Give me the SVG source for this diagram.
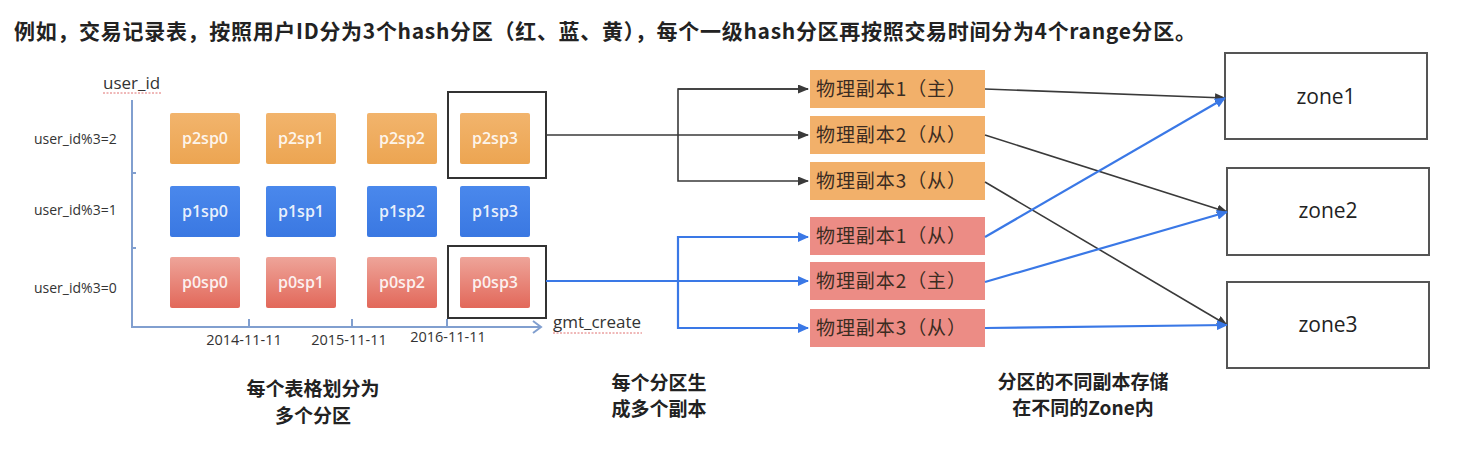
<svg xmlns="http://www.w3.org/2000/svg" width="1467" height="452" viewBox="0 0 1467 452">
<style>
.t{font-family:"Noto Sans CJK SC","Noto Sans",sans-serif;fill:#222}
.b{font-weight:bold}
.lat{font-family:"Open Sans","Noto Sans",sans-serif;fill:#333}
.cell{font-family:"Open Sans","Noto Sans",sans-serif;font-size:16px;font-weight:600;fill:#fff;fill-opacity:0.9;text-anchor:middle}
.rep{font-family:"Noto Sans CJK SC","Noto Sans",sans-serif;font-size:19px;fill:#3b2c22}
.zt{font-family:"Open Sans","Noto Sans",sans-serif;font-size:21px;fill:#222;text-anchor:middle}
.zone{fill:#fff;stroke:#555;stroke-width:2}
.hl{fill:none;stroke:#333;stroke-width:2}
.k{fill:none;stroke:#3a3a3a;stroke-width:1.6}
.bl{fill:none;stroke:#3a78e6;stroke-width:2.2}
.ax{fill:none;stroke:#819fcf;stroke-width:2}
.sq{fill:none;stroke:#e07070;stroke-width:1;stroke-dasharray:2 1.5}
.cap{font-family:"Noto Sans CJK SC","Noto Sans",sans-serif;font-weight:bold;font-size:19px;fill:#222;text-anchor:middle}
</style>
<defs>
<linearGradient id="gO" x1="0" y1="0" x2="0" y2="1"><stop offset="0" stop-color="#f2b46c"/><stop offset="1" stop-color="#eca552"/></linearGradient>
<linearGradient id="gB" x1="0" y1="0" x2="0" y2="1"><stop offset="0" stop-color="#4a88ec"/><stop offset="1" stop-color="#3a78e2"/></linearGradient>
<linearGradient id="gR" x1="0" y1="0" x2="0" y2="1"><stop offset="0" stop-color="#eea499"/><stop offset="1" stop-color="#e2685a"/></linearGradient>
<marker id="ak" markerWidth="11" markerHeight="9" refX="10" refY="4.5" orient="auto" markerUnits="userSpaceOnUse"><path d="M0,0 L11,4.5 L0,9 Z" fill="#3a3a3a"/></marker>
<marker id="ab" markerWidth="11" markerHeight="10" refX="10" refY="5" orient="auto" markerUnits="userSpaceOnUse"><path d="M0,0 L11,5 L0,10 Z" fill="#3a78e6"/></marker>
</defs>
<rect width="1467" height="452" fill="#fff"/>

<text class="t b" x="14" y="39" font-size="21" textLength="1182" lengthAdjust="spacing">例如，交易记录表，按照用户ID分为3个hash分区（红、蓝、黄），每个一级hash分区再按照交易时间分为4个range分区。</text>

<g id="axes">
<path class="ax" d="M132,100 V327 H540"/>
<path class="ax" d="M533,321 L541,327 L533,333"/>
<path class="ax" d="M132,173 h4 M132,248 h4 M249,327 v-8 M352,327 v-8 M447,327 v-8"/>
<text class="lat" x="103" y="89" font-size="17">user_id</text>
<path class="sq" d="M103,93 H162"/>
<text class="lat" x="553" y="328" font-size="17">gmt_create</text>
<path class="sq" d="M553,333 H642"/>
<text class="lat" x="34" y="144" font-size="14">user_id%3=2</text>
<text class="lat" x="34" y="215" font-size="14">user_id%3=1</text>
<text class="lat" x="34" y="293" font-size="14">user_id%3=0</text>
<text class="lat" x="244" y="345" font-size="14.5" text-anchor="middle">2014-11-11</text>
<text class="lat" x="349" y="345" font-size="14.5" text-anchor="middle">2015-11-11</text>
<text class="lat" x="448" y="342" font-size="14.5" text-anchor="middle">2016-11-11</text>
</g>

<g id="p2">
<rect x="170" y="113" width="70" height="51" rx="2" fill="url(#gO)"/><text class="cell" x="205" y="144">p2sp0</text>
<rect x="266" y="113" width="70" height="51" rx="2" fill="url(#gO)"/><text class="cell" x="301" y="144">p2sp1</text>
<rect x="367" y="113" width="70" height="51" rx="2" fill="url(#gO)"/><text class="cell" x="402" y="144">p2sp2</text>
<rect x="460" y="113" width="70" height="51" rx="2" fill="url(#gO)"/><text class="cell" x="495" y="144">p2sp3</text>
</g>
<g id="p1">
<rect x="170" y="186" width="70" height="51" rx="2" fill="url(#gB)"/><text class="cell" x="205" y="217">p1sp0</text>
<rect x="266" y="186" width="70" height="51" rx="2" fill="url(#gB)"/><text class="cell" x="301" y="217">p1sp1</text>
<rect x="367" y="186" width="70" height="51" rx="2" fill="url(#gB)"/><text class="cell" x="402" y="217">p1sp2</text>
<rect x="460" y="186" width="70" height="51" rx="2" fill="url(#gB)"/><text class="cell" x="495" y="217">p1sp3</text>
</g>
<g id="p0">
<rect x="170" y="257" width="70" height="51" rx="2" fill="url(#gR)"/><text class="cell" x="205" y="288">p0sp0</text>
<rect x="266" y="257" width="70" height="51" rx="2" fill="url(#gR)"/><text class="cell" x="301" y="288">p0sp1</text>
<rect x="367" y="257" width="70" height="51" rx="2" fill="url(#gR)"/><text class="cell" x="402" y="288">p0sp2</text>
<rect x="460" y="257" width="70" height="51" rx="2" fill="url(#gR)"/><text class="cell" x="495" y="288">p0sp3</text>
</g>
<g id="highlights">
<rect class="hl" x="448" y="92" width="98" height="86"/>
<rect class="hl" x="448" y="246" width="98" height="72"/>
</g>

<g id="replicas-p2">
<rect x="810" y="70" width="175" height="38" fill="#f2b06a"/><text class="rep" x="816" y="96" textLength="150">物理副本1（主）</text>
<rect x="810" y="116" width="175" height="38" fill="#f2b06a"/><text class="rep" x="816" y="142" textLength="150">物理副本2（从）</text>
<rect x="810" y="162" width="175" height="38" fill="#f2b06a"/><text class="rep" x="816" y="188" textLength="150">物理副本3（从）</text>
</g>
<g id="replicas-p0">
<rect x="810" y="217" width="175" height="38" fill="#ec8c85"/><text class="rep" x="816" y="243" textLength="150">物理副本1（从）</text>
<rect x="810" y="262" width="175" height="38" fill="#ec8c85"/><text class="rep" x="816" y="288" textLength="150">物理副本2（主）</text>
<rect x="810" y="309" width="175" height="38" fill="#ec8c85"/><text class="rep" x="816" y="335" textLength="150">物理副本3（从）</text>
</g>

<g id="zone1"><rect class="zone" x="1225" y="53" width="202" height="86"/><text class="zt" x="1326" y="104">zone1</text></g>
<g id="zone2"><rect class="zone" x="1227" y="168" width="202" height="87"/><text class="zt" x="1328" y="218">zone2</text></g>
<g id="zone3"><rect class="zone" x="1227" y="282" width="202" height="86"/><text class="zt" x="1328" y="332">zone3</text></g>

<g id="connectors">
<path class="k" d="M546,135 H808" marker-end="url(#ak)"/>
<path class="k" d="M808,89 H678 V181 H808" marker-end="url(#ak)"/>
<path class="k" d="M678,89 H808" marker-end="url(#ak)"/>
<path class="bl" d="M546,281 H808" marker-end="url(#ab)"/>
<path class="bl" d="M808,237 H678 V328 H808" marker-end="url(#ab)"/>
<path class="bl" d="M678,237 H808" marker-end="url(#ab)"/>
<path class="k" d="M985,89 L1225,98" marker-end="url(#ak)"/>
<path class="k" d="M985,135 L1227,212" marker-end="url(#ak)"/>
<path class="k" d="M985,182 L1227,325" marker-end="url(#ak)"/>
<path class="bl" d="M985,237 L1225,98" marker-end="url(#ab)"/>
<path class="bl" d="M985,282 L1227,212" marker-end="url(#ab)"/>
<path class="bl" d="M985,328 L1227,325" marker-end="url(#ab)"/>
</g>

<g id="captions">
<text class="cap" x="313" y="396">每个表格划分为</text>
<text class="cap" x="313" y="423">多个分区</text>
<text class="cap" x="659" y="390">每个分区生</text>
<text class="cap" x="659" y="416">成多个副本</text>
<text class="cap" x="1083" y="389">分区的不同副本存储</text>
<text class="cap" x="1083" y="415">在不同的Zone内</text>
</g>
</svg>
